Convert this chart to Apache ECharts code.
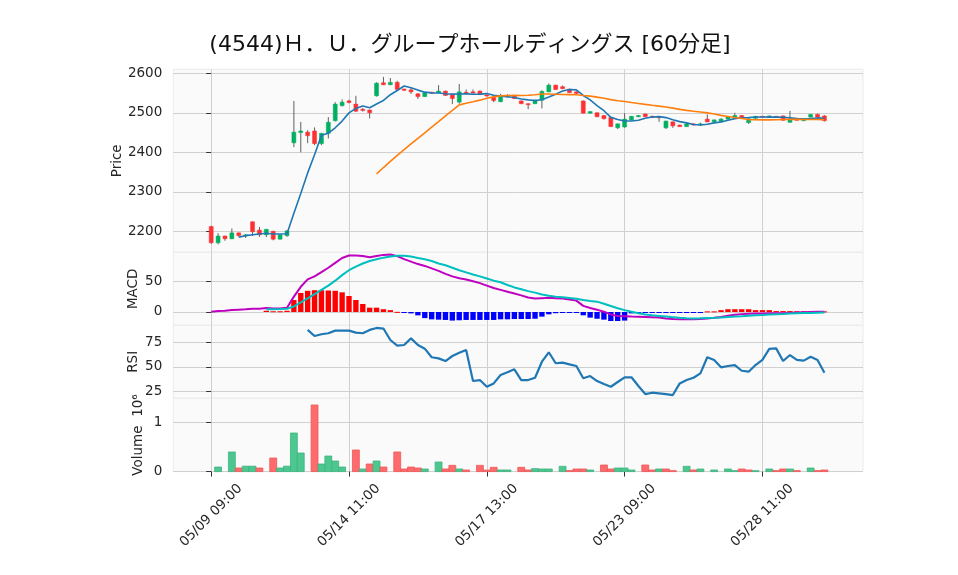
<!DOCTYPE html>
<html><head><meta charset="utf-8">
<script src="https://cdn.jsdelivr.net/npm/echarts@6/dist/echarts.min.js"></script>
<style>html,body{margin:0;padding:0;background:#fff}#c{width:958px;height:575px}</style>
</head><body><div id="c"></div>
<script>
const titleText = '(4544)Ｈ．Ｕ．グループホールディングス [60分足]';
const tickPositions = [0, 20, 40, 60, 80];
const tickLabels = ['05/09 09:00', '05/14 11:00', '05/17 13:00', '05/23 09:00', '05/28 11:00'];

const opens = [2212,2171,2188,2181,2196,2190,2224,2203,2191,2200,2180,2189,2424,2450,2451,2454,2422,2448,2480,2518,
 2530,2522,2509,2507,2543,2576,2571,2577,2560,2558,2548,2541,2552,2551,2555,2545,2527,2552,2553,2555,
 2545,2540,2528,2540,2543,2530,2523,2523,2532,2553,2570,2566,2560,2553,2530,2499,2500,2493,2488,2462,
 2464,2482,2490,2497,2491,2490,2462,2477,2469,2465,2472,2471,2484,2477,2477,2484,2489,2493,2475,2486,
 2491,2488,2491,2492,2476,2486,2480,2489,2496,2492];
const closes = [2171,2188,2181,2196,2189,2191,2199,2191,2205,2180,2191,2201,2451,2454,2442,2422,2448,2476,2522,2527,
 2526,2504,2506,2500,2575,2571,2577,2559,2557,2553,2541,2551,2550,2555,2544,2536,2553,2551,2550,2546,
 2543,2531,2541,2543,2536,2523,2521,2532,2554,2570,2559,2561,2551,2549,2499,2503,2490,2485,2465,2472,
 2484,2491,2493,2490,2488,2489,2479,2467,2465,2472,2469,2472,2477,2482,2484,2490,2493,2488,2484,2491,
 2490,2492,2489,2481,2484,2481,2485,2496,2489,2480];
const lows = [2168,2167,2176,2180,2186,2183,2188,2186,2185,2177,2179,2186,2413,2400,2423,2418,2418,2435,2478,2516,
 2524,2502,2503,2486,2541,2570,2570,2558,2555,2548,2535,2540,2549,2550,2543,2522,2523,2549,2549,2545,
 2541,2527,2527,2539,2535,2522,2509,2522,2511,2552,2558,2560,2550,2545,2498,2498,2489,2483,2464,2459,
 2462,2481,2489,2489,2487,2477,2459,2462,2464,2464,2468,2467,2476,2476,2476,2483,2488,2486,2472,2485,
 2489,2487,2488,2480,2475,2480,2479,2488,2488,2478];
const highs = [2214,2195,2189,2207,2197,2193,2225,2211,2206,2201,2192,2203,2530,2477,2456,2463,2449,2489,2527,2534,
 2533,2543,2512,2508,2577,2591,2588,2581,2561,2562,2550,2552,2553,2570,2556,2546,2573,2559,2559,2556,
 2547,2541,2548,2547,2544,2531,2524,2533,2557,2574,2571,2569,2561,2554,2531,2504,2501,2494,2490,2473,
 2499,2492,2494,2498,2493,2491,2480,2478,2470,2475,2473,2475,2496,2483,2486,2491,2500,2494,2487,2492,
 2492,2493,2492,2493,2505,2487,2486,2497,2498,2494];
const volumes = [0,93000,0,398000,73000,110000,110000,73000,0,276000,73000,110000,783000,377000,0,1351000,154000,316000,215000,93000,
 0,438000,53000,154000,215000,93000,0,398000,53000,93000,73000,53000,0,195000,53000,127000,53000,33000,0,127000,
 30000,87000,33000,33000,0,87000,33000,60000,53000,53000,0,107000,20000,53000,53000,33000,0,134000,53000,73000,
 73000,33000,0,134000,33000,53000,53000,20000,0,107000,33000,53000,0,33000,0,53000,20000,53000,33000,20000,
 0,53000,20000,53000,53000,20000,0,73000,20000,33000];

const ma5 = [null,null,null,null,2185.0,2189.0,2191.2,2193.2,2195.0,2193.2,2193.2,2193.6,2245.6,2295.4,2347.8,2394.0,2443.4,2448.4,2462.0,2479.0,
 2499.8,2511.0,2517.0,2512.6,2522.2,2531.2,2545.8,2556.4,2567.8,2563.4,2557.4,2552.2,2550.4,2550.0,2548.2,2547.2,2547.6,2547.8,2546.8,2547.2,
 2548.6,2544.2,2542.2,2540.8,2538.8,2534.8,2532.8,2531.0,2533.2,2540.0,2547.2,2555.2,2559.0,2558.0,2543.8,2532.6,2518.4,2505.2,2488.4,2483.0,
 2479.2,2479.4,2481.0,2486.0,2489.2,2490.2,2487.8,2482.6,2477.6,2474.4,2470.4,2469.0,2471.0,2474.4,2476.8,2481.0,2485.2,2487.4,2487.8,2489.2,
 2489.2,2489.0,2489.2,2488.6,2487.2,2485.4,2484.0,2485.4,2487.0,2486.2];
const ma25 = [null,null,null,null,null,null,null,null,null,null,null,null,null,null,null,null,null,null,null,null,
 null,null,null,null,2345.4,2361.4,2377.0,2392.1,2406.6,2421.1,2435.1,2449.2,2463.6,2477.6,2492.1,2505.9,2520.0,2524.0,2527.8,2532.0,
 2536.8,2540.2,2542.8,2543.6,2544.0,2543.8,2544.5,2545.6,2547.7,2547.5,2547.0,2546.4,2546.1,2545.8,2543.6,2542.1,2539.6,2537.0,2533.4,2530.6,
 2528.5,2526.0,2523.7,2521.3,2519.0,2516.8,2514.7,2511.8,2508.6,2506.1,2503.9,2502.0,2499.8,2496.9,2493.4,2490.7,2488.0,2485.4,2482.8,2482.5,
 2482.0,2482.1,2482.2,2482.9,2483.4,2483.2,2483.0,2483.1,2483.1,2482.8];

const macdLine = [0.5,1.4,2.0,3.3,3.8,4.3,5.2,5.4,6.4,5.6,5.8,7.0,25,41,53,58,65,72,80,88,
 92,92,91,89,91,93,93.5,91,86,82,78,75,71,67,62,58,55,53,50,47,
 43,39,36,33,30,27,23.5,22,22.5,23,22.5,22,20.5,18.5,10,6.5,3.5,0.5,-4,-6.5,
 -7,-7.5,-7.7,-8,-8.5,-9,-10.5,-11.4,-12,-12,-12,-11.5,-10.5,-9.5,-8,-6,-4.5,-3.5,-3,-2.5,
 -2.5,-2.2,-2,-2,-1.5,-1,-0.5,0,0.5,0.3];
const signalLine = [null,null,null,null,null,null,null,null,4.4,4.6,4.8,5.2,9,15.5,22,29,36,43,51,60,
 68,74,79,83,86,88.5,90.5,91.5,91.5,90.5,88,86,83,79,76,72,68,64.5,61,58,
 54.5,51,48.5,44,40,37,34,31.5,28.5,26.5,25,24,22.8,21.5,19.5,18,16.8,13.5,9.8,6,
 3,0.5,-2,-4,-5.5,-6.5,-7.5,-8.5,-9.5,-10.3,-10.5,-10.2,-9.8,-9.5,-9,-8,-7.5,-6.8,-6,-5.2,
 -4.8,-4,-3.6,-3.2,-2.6,-2.2,-1.8,-1.5,-1.2,-1.0];
const histogram = [null,null,null,null,null,null,null,null,2.0,1.2,1.2,2.0,19.5,31,34.5,35.5,35.5,35,34.5,32,
 26,19.5,13,7,7,4.5,3,0.2,-0.5,-2.3,-5.5,-10,-12,-12.5,-13,-14,-13.5,-13,-13,-13,
 -13,-13,-12,-12,-11.5,-11.5,-11.5,-11,-7.6,-3.8,-2,-1,-1,-1,-5.4,-9.2,-11,-12.5,-14.7,-14.7,
 -14,-2.3,-0.8,-0.8,-0.8,-0.8,-0.8,-0.8,-0.8,-0.8,-0.8,-0.8,1,1,3,4.5,4.5,4.5,4.5,3,
 3,3,1.5,1.5,1.5,1.2,1.2,1.2,1,1];
const rsi = [null,null,null,null,null,null,null,null,null,null,null,null,null,null,87.6,81.4,83.2,84.2,86.9,86.9,
 86.9,84.8,84.2,87.6,89.6,89,77.3,71.5,72.2,79,72.2,68.5,59.7,58.6,55.9,61,64.4,67.1,35.5,36.5,
 29.7,33.1,41.6,44.4,47.4,36.5,36.5,38.9,55.2,64.8,53.6,54.3,52.5,50.8,38.3,40.6,35.5,32.4,29.7,34.5,
 39.3,39.3,30.4,22.2,23.6,22.9,22.2,21.2,33.1,36.5,38.9,43.3,59.7,57,49.5,50.8,51.8,46,45,51.8,
 57,68.2,68.8,55.9,62,57,56.3,60.3,57,44];

const priceTicks = [2200, 2300, 2400, 2500, 2600];
const macdTicks = [0, 50];
const rsiTicks = [25, 50, 75];
const volTicks = [0, 1000000];

const UP = '#00b060', DOWN = '#fe3032', WICK = '#606060';
const VUP = '#4dc790', VDOWN = '#fd6b6c';
const FONT = '"DejaVu Sans", "Noto Sans CJK JP", sans-serif';
const TXT = '#262626';
const GRIDC = '#d0d0d0';

const L = 173.3, R = 958 - 863;
const grids = [
  {left: L, right: R, top: 69.3, height: 183},
  {left: L, right: R, top: 252.3, height: 73},
  {left: L, right: R, top: 325.3, height: 73},
  {left: L, right: R, top: 398.3, height: 73.3}
].map(g => Object.assign(g, {show: true, backgroundColor: '#fafafa', borderColor: '#ebebeb', borderWidth: 1}));

const xAxes = [0,1,2,3].map(i => ({
  type: 'value', gridIndex: i, min: -5.5, max: 94.6,
  axisLine: {show: false},
  axisTick: {show: i === 3, customValues: tickPositions, length: 5, lineStyle: {color: '#333'}},
  axisLabel: {show: i === 3, customValues: tickPositions, rotate: 45, align: 'center', verticalAlign: 'middle',
    margin: 44, fontSize: 13.5, color: TXT, fontFamily: FONT,
    formatter: v => tickLabels[tickPositions.indexOf(Math.round(v))] || ''},
  splitLine: {show: true, lineStyle: {color: GRIDC, width: 1}}
}));

function yAx(i, min, max, ticks, name, gap, fmt) {
  return {
    type: 'value', gridIndex: i, min, max, name, nameLocation: 'middle', nameGap: gap, nameMoveOverlap: false,
    nameTextStyle: {fontSize: 13.5, color: TXT, fontFamily: FONT},
    axisLine: {show: false},
    axisTick: {show: true, customValues: ticks, length: 5, lineStyle: {color: '#333'}},
    axisLabel: {customValues: ticks, fontSize: 13.5, color: TXT, fontFamily: FONT, margin: 11,
      formatter: fmt || (v => String(v))},
    splitLine: {show: true, lineStyle: {color: GRIDC, width: 1}}
  };
}
const yAxes = [
  yAx(0, 2146.8, 2610.1, priceTicks, 'Price', 49),
  yAx(1, -21.7, 97.2, macdTicks, 'MACD', 33),
  yAx(2, 17.9, 92.3, rsiTicks, 'RSI', 33),
  yAx(3, 0, 1487000, volTicks, 'Volume  10\u2076', 28, v => String(Math.round(v / 1e6)))
];

const candleData = closes.map((c, i) => [i, opens[i], c, lows[i], highs[i]]);
const volData = volumes.map((v, i) => [i, v, i === 0 ? 1 : (closes[i] >= closes[i - 1] ? 1 : 0)]);
const histData = histogram.map((v, i) => [i, v]).filter(d => d[1] !== null);
const lineData = arr => arr.map((v, i) => [i, v]).filter(d => d[1] !== null);

const series = [
  {
    type: 'custom', xAxisIndex: 0, yAxisIndex: 0, data: candleData, encode: {x: 0, y: [1, 2, 3, 4]},
    renderItem: (params, api) => {
      const i = api.value(0), o = api.value(1), c = api.value(2), lo = api.value(3), hi = api.value(4);
      const pO = api.coord([i, o]), pC = api.coord([i, c]), pL = api.coord([i, lo]), pH = api.coord([i, hi]);
      const w = api.size([1, 0])[0] * 0.58;
      const top = Math.min(pO[1], pC[1]);
      let hh = Math.abs(pO[1] - pC[1]); if (hh < 1) hh = 1;
      const col = c >= o ? UP : DOWN;
      return {type: 'group', children: [
        {type: 'line', shape: {x1: pH[0], y1: pH[1], x2: pL[0], y2: pL[1]}, style: {stroke: WICK, lineWidth: 1}},
        {type: 'rect', shape: {x: pO[0] - w / 2, y: top, width: w, height: hh}, style: {fill: col, stroke: col, lineWidth: 0.5}}
      ]};
    }
  },
  {type: 'line', xAxisIndex: 0, yAxisIndex: 0, data: lineData(ma5), showSymbol: false, lineStyle: {color: '#1f77b4', width: 1.6}, z: 3},
  {type: 'line', xAxisIndex: 0, yAxisIndex: 0, data: lineData(ma25), showSymbol: false, lineStyle: {color: '#ff7f0e', width: 1.6}, z: 3},
  {
    type: 'custom', xAxisIndex: 1, yAxisIndex: 1, data: histData, encode: {x: 0, y: 1},
    renderItem: (params, api) => {
      const i = api.value(0), v = api.value(1);
      const p0 = api.coord([i, 0]), p1 = api.coord([i, v]);
      const w = api.size([1, 0])[0] * 0.78;
      return {type: 'rect', shape: {x: p0[0] - w / 2, y: Math.min(p0[1], p1[1]), width: w, height: Math.max(Math.abs(p1[1] - p0[1]), 1)},
        style: {fill: v >= 0 ? '#ff0000' : '#0000ff'}};
    }
  },
  {type: 'line', xAxisIndex: 1, yAxisIndex: 1, data: lineData(macdLine), showSymbol: false, lineStyle: {color: '#bf00bf', width: 2}, z: 3},
  {type: 'line', xAxisIndex: 1, yAxisIndex: 1, data: lineData(signalLine), showSymbol: false, lineStyle: {color: '#00bfbf', width: 2}, z: 3},
  {type: 'line', xAxisIndex: 2, yAxisIndex: 2, data: lineData(rsi), showSymbol: false, lineStyle: {color: '#1f77b4', width: 2.2}},
  {
    type: 'custom', xAxisIndex: 3, yAxisIndex: 3, data: volData, encode: {x: 0, y: 1},
    renderItem: (params, api) => {
      const i = api.value(0), v = api.value(1), up = api.value(2);
      if (!v) return null;
      const p0 = api.coord([i, 0]), p1 = api.coord([i, v]);
      const w = api.size([1, 0])[0] * 1.0;
      return {type: 'rect', shape: {x: p0[0] - w / 2, y: p1[1], width: w, height: p0[1] - p1[1]},
        style: {fill: up ? VUP : VDOWN, stroke: up ? '#3fb37f' : '#ee5758', lineWidth: 0.8}};
    }
  }
];

const chart = echarts.init(document.getElementById('c'), null, {renderer: 'canvas'});
chart.setOption({
  animation: false,
  backgroundColor: '#ffffff',
  grid: grids, xAxis: xAxes, yAxis: yAxes, series,
  graphic: [{type: 'text', x: 470, y: 45, style: {text: titleText, fontSize: 22, fontFamily: FONT, fill: '#111',
    align: 'center', verticalAlign: 'middle'}}]
});
</script></body></html>
